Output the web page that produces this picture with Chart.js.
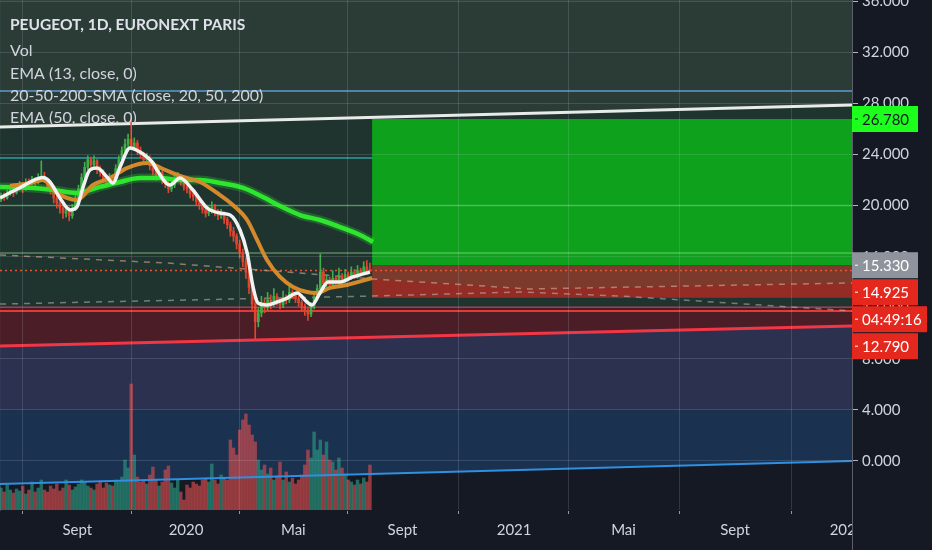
<!DOCTYPE html>
<html>
<head>
<meta charset="utf-8">
<script src="https://cdn.jsdelivr.net/npm/chart.js@4.4.1/dist/chart.umd.min.js"></script>
<style>
  html, body { margin: 0; padding: 0; background: #151924; }
  #wrap { width: 932px; height: 550px; }
</style>
</head>
<body>
<div id="wrap"><canvas id="chart" width="932" height="550"></canvas></div>
<script>
// PEUGEOT 1D chart, redrawn from a TradingView screenshot

// x axis runs in bar units (one bar here is about 2.4 trading days)
const xTickBars = [24.6, 59.7, 94.3, 129.5, 165.5, 200.8, 236.8, 272.9];
const xTickLabels = ["Sept", "2020", "Mai", "Sept", "2021", "Mai", "Sept", "2022"];
const yTicks = [0, 4, 8, 12, 16, 20, 24, 28, 32, 36];
const X_MIN = -0.32, X_MAX = 274.5;
const Y_MIN = -3.84, Y_MAX = 36.1;

const legendTitle = "PEUGEOT, 1D, EURONEXT PARIS";
const legendLines = ["Vol", "EMA (13, close, 0)", "20-50-200-SMA (close, 20, 50, 200)", "EMA (50, close, 0)"];

const opens = [
	20.5, 20.8, 20.6, 21.0, 21.2, 21.0, 21.4, 21.6, 21.3, 21.8,
	21.7, 22.0, 21.8, 22.1, 22.3, 22.0, 21.5, 21.2, 20.6, 20.2,
	19.8, 19.4, 19.7, 19.2, 19.8, 20.5, 21.3, 22.2, 23.0, 23.6,
	23.2, 23.5, 22.8, 22.6, 22.1, 21.8, 22.2, 22.0, 22.9, 23.6,
	24.3, 24.8, 25.2, 24.6, 24.9, 24.3, 24.0, 23.6, 23.8, 23.1,
	22.7, 22.3, 22.6, 22.0, 21.7, 21.3, 21.6, 22.1, 22.3, 21.9,
	21.5, 21.3, 20.9, 20.7, 20.3, 20.0, 19.7, 19.4, 19.6, 19.9,
	19.5, 19.2, 19.4, 18.9, 18.5, 18.0, 17.6, 17.0, 16.3, 15.6,
	14.8, 13.6, 12.3, 10.9, 11.6, 12.4, 12.0, 12.6, 12.3, 12.9,
	12.5, 12.2, 12.8, 12.6, 13.2, 13.0, 12.7, 12.4, 12.1, 11.8,
	11.5, 12.1, 12.8, 13.5, 14.8, 13.9, 14.2, 13.8, 14.3, 14.0,
	14.5, 14.2, 14.6, 14.4, 14.8, 14.5, 14.9, 14.7, 15.2, 15.0,
];
const highs = [
	21.0, 21.0, 21.2, 21.5, 21.4, 21.7, 21.9, 21.8, 22.1, 22.1,
	22.3, 22.2, 22.5, 23.5, 22.6, 22.1, 21.7, 21.3, 20.9, 20.4,
	20.0, 20.0, 19.9, 20.1, 20.8, 21.6, 22.5, 23.4, 23.9, 23.8,
	23.9, 23.6, 23.1, 22.8, 22.3, 22.5, 22.4, 23.2, 23.9, 24.6,
	25.2, 25.6, 26.9, 25.3, 25.1, 24.6, 24.2, 24.1, 23.9, 23.3,
	22.9, 22.9, 22.7, 22.2, 21.9, 21.9, 22.4, 22.6, 22.4, 22.1,
	21.7, 21.5, 21.1, 20.9, 20.5, 20.2, 19.9, 19.9, 20.3, 20.1,
	19.7, 19.7, 19.5, 19.1, 18.7, 18.3, 17.8, 17.3, 16.6, 15.9,
	15.1, 14.0, 12.8, 12.0, 12.9, 12.7, 13.2, 13.0, 13.5, 13.1,
	12.8, 13.3, 13.0, 13.7, 13.4, 13.2, 12.9, 12.6, 12.3, 12.0,
	12.4, 13.1, 13.8, 16.2, 15.1, 14.6, 14.4, 14.9, 14.5, 15.1,
	14.7, 15.0, 14.8, 15.2, 15.0, 15.3, 15.1, 15.6, 15.7, 15.5,
];
const lows = [
	20.3, 20.4, 20.5, 20.8, 20.7, 20.9, 21.2, 21.0, 21.2, 21.4,
	21.6, 21.5, 21.7, 21.9, 21.8, 21.2, 20.9, 20.2, 19.8, 19.4,
	19.0, 19.1, 18.8, 19.0, 19.6, 20.3, 21.1, 22.0, 22.8, 22.9,
	23.0, 22.5, 22.3, 21.8, 21.4, 21.6, 21.6, 21.9, 22.7, 23.4,
	24.1, 24.6, 24.4, 24.4, 24.0, 23.7, 23.3, 23.4, 22.8, 22.4,
	22.0, 22.1, 21.7, 21.4, 21.0, 21.1, 21.4, 21.9, 21.6, 21.2,
	21.0, 20.6, 20.4, 20.0, 19.7, 19.4, 19.1, 19.2, 19.4, 19.2,
	18.9, 19.0, 18.6, 18.2, 17.6, 17.2, 16.6, 15.9, 15.2, 14.3,
	13.1, 11.8, 9.5, 10.5, 11.3, 11.6, 11.8, 11.9, 12.1, 12.2,
	11.9, 12.0, 12.3, 12.4, 12.7, 12.4, 12.1, 11.8, 11.4, 11.0,
	11.3, 11.9, 12.6, 13.3, 13.7, 13.6, 13.5, 13.6, 13.7, 13.8,
	13.9, 14.0, 14.1, 14.2, 14.3, 14.3, 14.5, 14.6, 14.9, 14.8,
];
const closes = [
	20.8, 20.6, 21.0, 21.2, 21.0, 21.4, 21.6, 21.3, 21.8, 21.7,
	22.0, 21.8, 22.1, 22.3, 22.0, 21.5, 21.2, 20.6, 20.2, 19.8,
	19.4, 19.7, 19.2, 19.8, 20.5, 21.3, 22.2, 23.0, 23.6, 23.2,
	23.5, 22.8, 22.6, 22.1, 21.8, 22.2, 22.0, 22.9, 23.6, 24.3,
	24.8, 25.2, 24.6, 24.9, 24.3, 24.0, 23.6, 23.8, 23.1, 22.7,
	22.3, 22.6, 22.0, 21.7, 21.3, 21.6, 22.1, 22.3, 21.9, 21.5,
	21.3, 20.9, 20.7, 20.3, 20.0, 19.7, 19.4, 19.6, 19.9, 19.5,
	19.2, 19.4, 18.9, 18.5, 18.0, 17.6, 17.0, 16.3, 15.6, 14.8,
	13.6, 12.3, 10.9, 11.6, 12.4, 12.0, 12.6, 12.3, 12.9, 12.5,
	12.2, 12.8, 12.6, 13.2, 13.0, 12.7, 12.4, 12.1, 11.8, 11.5,
	12.1, 12.8, 13.5, 14.8, 13.9, 14.2, 13.8, 14.3, 14.0, 14.5,
	14.2, 14.6, 14.4, 14.8, 14.5, 14.9, 14.7, 15.2, 15.0, 14.925,
];
// volume, millions of shares
const volumes = [
	4.4, 3.6, 5.0, 4.0, 3.4, 4.2, 3.8, 4.8, 3.2, 4.0,
	5.6, 3.6, 4.4, 6.0, 4.0, 3.6, 4.8, 4.2, 5.2, 3.8,
	4.4, 6.0, 5.0, 4.0, 4.6, 5.2, 6.0, 5.6, 4.8, 4.4,
	4.0, 5.2, 5.8, 4.4, 5.4, 5.0, 4.8, 6.0, 5.6, 6.6,
	10.0, 8.4, 25.2, 11.0, 6.6, 5.6, 6.0, 5.2, 7.0, 8.6,
	6.0, 4.8, 5.6, 8.0, 8.8, 5.4, 4.4, 6.0, 3.6, 2.0,
	5.0, 4.4, 5.6, 5.2, 4.8, 6.0, 6.4, 5.6, 9.2, 6.0,
	5.2, 7.0, 6.4, 6.0, 14.0, 12.4, 11.0, 16.0, 18.0, 19.2,
	17.0, 15.0, 13.6, 10.0, 8.0, 9.0, 7.2, 8.4, 6.0, 6.8,
	9.6, 6.0, 7.6, 5.6, 6.4, 5.2, 6.0, 7.0, 9.0, 12.0,
	10.4, 15.6, 12.0, 14.0, 11.0, 13.6, 10.0, 9.6, 8.0, 10.4,
	8.4, 7.2, 6.0, 5.6, 5.0, 6.0, 5.2, 6.4, 5.6, 9.0,
];
const VOL_MAX = 102;

// moving averages: [bar, price]
const ema13 = [[-0.3, 20.6], [6.1, 21.4], [13.5, 22.2], [15.8, 21.85], [19.0, 20.6], [22.3, 19.66], [24.5, 19.9], [26.5, 21.46], [28.7, 22.8], [31.0, 22.94], [34.2, 22.24], [36.1, 21.77], [38.4, 23.02], [41.6, 24.51], [44.8, 24.2], [49.0, 23.34], [50.3, 22.79], [54.5, 21.61], [57.7, 22.16], [61.9, 21.22], [66.5, 19.81], [70.6, 19.42], [73.9, 19.26], [77.1, 18.09], [79.4, 16.29], [81.3, 13.63], [82.9, 12.37], [85.8, 12.22], [89.0, 12.45], [92.3, 12.76], [95.5, 13.16], [98.7, 12.45], [100.3, 12.22], [102.9, 13.16], [105.5, 14.02], [109.4, 14.02], [113.5, 14.41], [119.0, 14.8]];
const ema50 = [[2.9, 21.53], [9.4, 21.77], [13.5, 22.0], [18.1, 20.99], [24.5, 20.44], [29.7, 21.61], [35.2, 22.16], [40.6, 22.94], [47.1, 23.34], [52.9, 22.79], [58.7, 22.24], [64.2, 21.85], [69.7, 20.99], [74.8, 20.05], [79.4, 18.87], [82.6, 17.31], [85.8, 15.74], [90.0, 14.41], [94.2, 13.63], [98.7, 13.23], [101.9, 13.16], [106.1, 13.55], [111.6, 13.78], [119.7, 14.33]];
const sma200 = [[-0.3, 21.46], [10.3, 21.38], [16.8, 21.22], [24.5, 20.99], [31.9, 21.46], [38.4, 21.85], [44.8, 22.16], [51.3, 22.16], [57.7, 22.0], [64.2, 22.0], [70.6, 21.77], [78.1, 21.38], [84.5, 20.67], [90.0, 19.97], [96.5, 19.26], [102.9, 18.87], [109.4, 18.32], [115.8, 17.7], [120.0, 17.15]];

// drawings on the chart
const whiteTrend = [[-0.32, 26.15], [274.5, 27.88]];
const redTrend = [[-0.32, 9.0], [274.5, 10.57]];
const blueTrend = [[-0.32, -1.8], [274.5, 0.0]];
const dashedUpper = [[-0.3, 16.13], [53.5, 15.5], [96.5, 14.72], [120, 14.25], [170.6, 13.47], [274.5, 13.94]];
const dashedLower = [[-0.3, 12.29], [120, 12.92], [167.4, 13.23], [199.7, 12.92], [274.5, 11.75]];
const blueLevel = 28.97, tealLevel = 23.73, greenLevels = [20.0, 16.29], grayLevel = 12.06, redLevel = 11.75;
const zoneFloor = 12.22, volZoneTop = 4;

// long position tool
const posStart = 119.7;
const target = 26.78, entry = 15.33, stop = 12.79;
const lastPrice = 14.925, countdown = "04:49:16";

const pts = (arr) => arr.map(([x, y]) => ({ x, y }));
const span = (y, from = X_MIN) => [{ x: from, y }, { x: X_MAX, y }];

function line(data, color, width, order, extra) {
	return Object.assign({ type: "line", data, borderColor: color, borderWidth: width, pointRadius: 0, fill: false, order, tension: 0 }, extra || {});
}

const bars = closes.map((_, i) => i);
const candleColor = bars.map((i) => (closes[i] >= opens[i] ? "#3fae49" : "#e0452f"));
const volColor = bars.map((i) => (closes[i] >= opens[i] ? "rgba(45,160,135,0.6)" : "rgba(225,80,80,0.6)"));

const datasets = [
	// background zones
	line(pts(whiteTrend), "transparent", 0, 40, { fill: "end", backgroundColor: "rgba(47,67,59,0.85)" }),
	line(pts(whiteTrend), "transparent", 0, 39, { fill: { value: zoneFloor }, backgroundColor: "rgba(33,58,49,0.85)" }),
	line(pts(redTrend), "transparent", 0, 38, { fill: { value: zoneFloor }, backgroundColor: "rgba(85,31,40,0.85)" }),
	line(pts(redTrend), "transparent", 0, 37, { fill: { value: volZoneTop }, backgroundColor: "rgba(48,54,88,0.85)" }),
	line(pts(blueTrend), "transparent", 0, 36, { fill: { value: volZoneTop }, backgroundColor: "rgba(28,54,88,0.85)" }),
	line(span(tealLevel), "#2c9ea0", 1.5, 35),
	// position boxes
	line(span(target, posStart), "transparent", 0, 30, { fill: { value: entry }, backgroundColor: "rgba(14,165,26,0.96)" }),
	line(span(entry, posStart), "transparent", 0, 29, { fill: { value: stop }, backgroundColor: "rgba(128,58,44,0.96)" }),
	line(pts(dashedUpper.filter((p) => p[0] >= 120)), "transparent", 0, 28, { fill: { value: stop }, backgroundColor: "rgba(190,20,25,0.35)" }),
	// levels
	line(span(blueLevel), "#5d9bd1", 1.5, 25),
	line(span(greenLevels[0]), "rgba(110,200,120,0.55)", 1.5, 25),
	line(span(greenLevels[1]), "rgba(150,215,150,0.5)", 1.5, 25),
	line(span(grayLevel), "rgba(170,170,170,0.45)", 1, 25),
	line(span(redLevel), "#e53935", 2, 24),
	line(span(lastPrice), "#e8502f", 1.5, 24, { borderDash: [2, 3] }),
	line(pts(dashedUpper), "rgba(215,175,150,0.6)", 1.5, 23, { borderDash: [6, 6] }),
	line(pts(dashedLower), "rgba(200,200,200,0.5)", 1.5, 23, { borderDash: [6, 6] }),
	// volume
	{ type: "bar", yAxisID: "yv", data: bars.map((i) => ({ x: i, y: volumes[i] })), backgroundColor: volColor, barThickness: 2.8, grouped: false, order: 20 },
	// trendlines
	line(pts(blueTrend), "#2f8fe0", 2, 15),
	line(pts(redTrend), "#f23645", 3, 15),
	line(pts(whiteTrend), "#e8ebe8", 3, 15),
	// candles
	{ type: "bar", data: bars.map((i) => ({ x: i, y: [lows[i], highs[i]] })), backgroundColor: candleColor, barThickness: 1, grouped: false, order: 8 },
	{ type: "bar", data: bars.map((i) => ({ x: i, y: [Math.min(opens[i], closes[i]), Math.max(opens[i], closes[i])] })), backgroundColor: candleColor, barThickness: 2, grouped: false, order: 7 },
	// moving averages
	line(pts(sma200), "rgba(46,230,46,0.25)", 9, 4, { cubicInterpolationMode: "monotone" }),
	line(pts(sma200), "#2ee62e", 4.5, 3, { cubicInterpolationMode: "monotone" }),
	line(pts(ema50), "#d4892a", 4, 2, { cubicInterpolationMode: "monotone" }),
	line(pts(ema13), "#f2f2f2", 3.5, 1, { cubicInterpolationMode: "monotone" }),
];

const tvPlugin = {
	id: "tv",
	beforeDraw(chart) {
		const { ctx, width, height } = chart;
		ctx.save();
		ctx.fillStyle = "#151924";
		ctx.fillRect(0, 0, width, height);
		ctx.restore();
	},
	afterDatasetsDraw(chart) {
		// price scale panel hides the cut x label
		const { ctx, chartArea, width, height } = chart;
		ctx.save();
		ctx.fillStyle = "#151924";
		ctx.fillRect(chartArea.right + 0.5, 0, width - chartArea.right, height);
		ctx.restore();
	},
	afterDraw(chart) {
		const { ctx, chartArea, height } = chart;
		const y = chart.scales.y;
		ctx.save();

		ctx.strokeStyle = "#5d606b";
		ctx.lineWidth = 1;
		ctx.beginPath();
		ctx.moveTo(chartArea.right + 0.5, 0);
		ctx.lineTo(chartArea.right + 0.5, height);
		ctx.stroke();

		// legend
		ctx.textBaseline = "alphabetic";
		ctx.font = "700 15.5px Lato";
		ctx.fillStyle = "#dfe2ea";
		ctx.fillText(legendTitle, 10, 30);
		ctx.font = "16px Lato";
		ctx.fillStyle = "#d1d4dc";
		[56, 79, 101, 123].forEach((by, i) => ctx.fillText(legendLines[i], 10, by));

		// price labels on the scale, stacked like TradingView does
		const labels = [
			{ value: target, text: target.toFixed(3), bg: "#1cff1c", fg: "#131722" },
			{ value: entry, text: entry.toFixed(3), bg: "#8f939c", fg: "#ffffff" },
			{ value: lastPrice, text: lastPrice.toFixed(3), bg: "#e5281e", fg: "#ffffff" },
			{ text: countdown, bg: "#e5281e", fg: "#ffffff", w: 75 },
			{ value: stop, text: stop.toFixed(3), bg: "#e5281e", fg: "#ffffff" },
		];
		const h = 26;
		let prevBottom = -Infinity;
		ctx.font = "15px Lato";
		ctx.textBaseline = "middle";
		labels.forEach((l) => {
			let cy = l.value !== undefined ? y.getPixelForValue(l.value) : prevBottom + 1 + h / 2;
			cy = Math.max(cy, prevBottom + 1 + h / 2);
			const x0 = chartArea.right;
			ctx.fillStyle = l.bg;
			ctx.fillRect(x0, cy - h / 2, l.w || 66, h);
			ctx.strokeStyle = l.fg;
			ctx.beginPath();
			ctx.moveTo(x0 + 3, cy);
			ctx.lineTo(x0 + 6, cy);
			ctx.stroke();
			ctx.fillStyle = l.fg;
			ctx.fillText(l.text, x0 + 10, cy + 1);
			prevBottom = cy + h / 2;
		});
		ctx.restore();
	},
};

Chart.defaults.font.family = "Lato, sans-serif";

new Chart(document.getElementById("chart"), {
	type: "line",
	data: { datasets },
	options: {
		responsive: false,
		animation: false,
		events: [],
		layout: { padding: 0 },
		plugins: { legend: { display: false }, tooltip: { enabled: false } },
		scales: {
			x: {
				type: "linear",
				min: X_MIN,
				max: X_MAX,
				offset: false,
				afterBuildTicks: (s) => {
					s.ticks = xTickBars.map((v) => ({ value: v }));
				},
				afterFit: (s) => {
					s.height = 40;
					s.paddingLeft = 0;
					s.paddingRight = 0;
				},
				ticks: { autoSkip: false, maxRotation: 0, color: "#d1d4dc", font: { size: 15 }, padding: 7, callback: (v, i) => xTickLabels[i] },
				grid: { color: "rgba(200,210,225,0.16)", tickColor: "#9598a1", tickLength: 4, z: 1 },
				border: { color: "#6b6f7a" },
			},
			y: {
				type: "linear",
				position: "right",
				min: Y_MIN,
				max: Y_MAX,
				afterBuildTicks: (s) => {
					s.ticks = yTicks.map((v) => ({ value: v }));
				},
				afterFit: (s) => {
					s.width = 80;
					s.paddingTop = 0;
					s.paddingBottom = 0;
				},
				ticks: { autoSkip: false, color: "#d1d4dc", font: { size: 15 }, padding: 4, z: 2, callback: (v) => v.toFixed(3) },
				grid: { color: "rgba(200,210,225,0.16)", tickColor: "#b2b5be", tickLength: 6, z: 1 },
				border: { color: "#6b6f7a" },
			},
			yv: { type: "linear", display: false, min: 0, max: VOL_MAX },
		},
	},
	plugins: [tvPlugin],
});
</script>
</body>
</html>
